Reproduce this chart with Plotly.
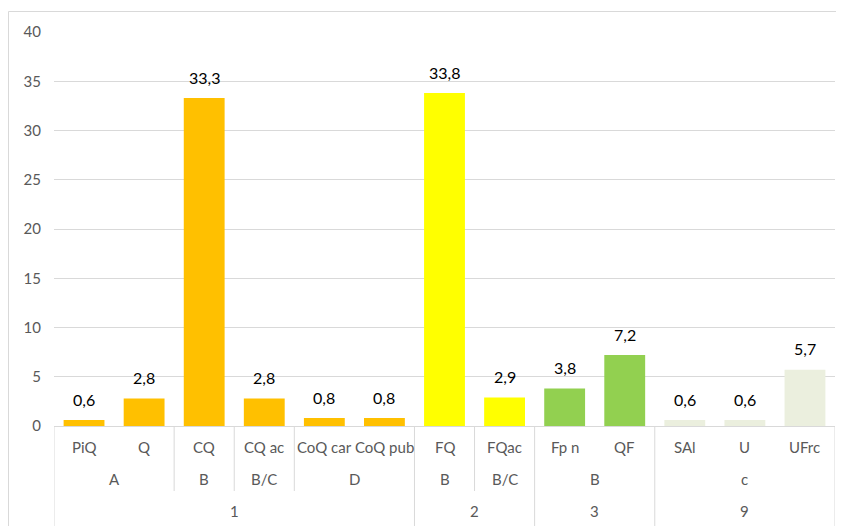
import plotly.graph_objects as go

# ---- data ----
level1 = ["PiQ", "Q", "CQ", "CQ ac", "CoQ car", "CoQ pub", "FQ", "FQac", "Fp n", "QF", "SAl", "U", "UFrc"]
level2 = ["A", "A", "B", "B/C", "D", "D", "B", "B/C", "B", "B", "c", "c", "c"]
level3 = ["1", "1", "1", "1", "1", "1", "2", "2", "3", "3", "9", "9", "9"]
values = [0.6, 2.8, 33.3, 2.8, 0.8, 0.8, 33.8, 2.9, 3.8, 7.2, 0.6, 0.6, 5.7]
y_ticks = [0, 5, 10, 15, 20, 25, 30, 35, 40]

group_colors = {"1": "#FFC000", "2": "#FFFF00", "3": "#92D050", "9": "#EBEFDE"}
bar_colors = [group_colors[g] for g in level3]

FONT = "Lato, 'Liberation Sans', sans-serif"
GRID = "#D9D9D9"
LABEL = "#595959"
CAT_SIZE = 15

n = len(level1)
xs = list(range(n))

fig = go.Figure()
fig.add_trace(go.Bar(
    x=xs, y=values,
    marker=dict(color=bar_colors, line=dict(width=0)),
    width=0.68,
    hoverinfo="skip",
))

annotations = []
shapes = []

# data labels
for i, v in enumerate(values):
    annotations.append(dict(x=i, y=v, xref="x", yref="y", text=f"{v:.1f}".replace(".", ","),
                            showarrow=False, yanchor="middle", yshift=21,
                            font=dict(family=FONT, size=16, color="#000000")))

def groups(labels, parent=None):
    out = []
    start = 0
    for i in range(1, n + 1):
        if i == n or labels[i] != labels[start] or (parent is not None and parent[i] != parent[start]):
            out.append((start, i - 1, labels[start]))
            start = i
    return out

for i, lab in enumerate(level1):
    annotations.append(dict(x=i, y=0, xref="x", yref="paper", text=lab, showarrow=False,
                            yshift=-21, yanchor="middle",
                            font=dict(family=FONT, size=CAT_SIZE, color=LABEL)))

l2 = groups(level2, level3)
for (s, e, lab) in l2:
    annotations.append(dict(x=(s + e) / 2, y=0, xref="x", yref="paper", text=lab, showarrow=False,
                            yshift=-53, yanchor="middle",
                            font=dict(family=FONT, size=CAT_SIZE, color=LABEL)))

l3 = groups(level3)
for (s, e, lab) in l3:
    annotations.append(dict(x=(s + e) / 2, y=0, xref="x", yref="paper", text=lab, showarrow=False,
                            yshift=-85, yanchor="middle",
                            font=dict(family=FONT, size=CAT_SIZE, color=LABEL)))

full_bounds = set([-0.5] + [e + 0.5 for (s, e, _) in l3])
short_bounds = set(e + 0.5 for (s, e, _) in l2) - full_bounds
for b in sorted(full_bounds):
    shapes.append(dict(type="line", xref="x", yref="paper", ysizemode="pixel", yanchor=0,
                       x0=b, x1=b, y0=0, y1=-100, line=dict(color=GRID, width=1)))
for b in sorted(short_bounds):
    shapes.append(dict(type="line", xref="x", yref="paper", ysizemode="pixel", yanchor=0,
                       x0=b, x1=b, y0=0, y1=-65, line=dict(color=GRID, width=1)))

# outer chart border
shapes.append(dict(type="rect", xref="paper", yref="paper", xsizemode="pixel", ysizemode="pixel",
                   xanchor=0, yanchor=1, x0=-45.5, x1=900, y0=20.5, y1=-600,
                   line=dict(color=GRID, width=1), fillcolor="rgba(0,0,0,0)", layer="below"))

fig.update_layout(
    width=836, height=518,
    margin=dict(l=46, r=9, t=24, b=100),
    paper_bgcolor="white", plot_bgcolor="white",
    showlegend=False,
    font=dict(family=FONT, size=CAT_SIZE, color=LABEL),
    xaxis=dict(range=[-0.5, n - 0.5], showticklabels=False, showgrid=False, zeroline=False,
               showline=True, linecolor=GRID, linewidth=1, ticks="", fixedrange=True),
    yaxis=dict(range=[0, 40], tickvals=y_ticks, showgrid=True, gridcolor=GRID, gridwidth=1,
               zeroline=False, showline=False, ticks="", ticklabelstandoff=12,
               tickfont=dict(family=FONT, size=CAT_SIZE, color=LABEL), fixedrange=True),
    annotations=annotations,
    shapes=shapes,
)

fig.write_html("out.html")
